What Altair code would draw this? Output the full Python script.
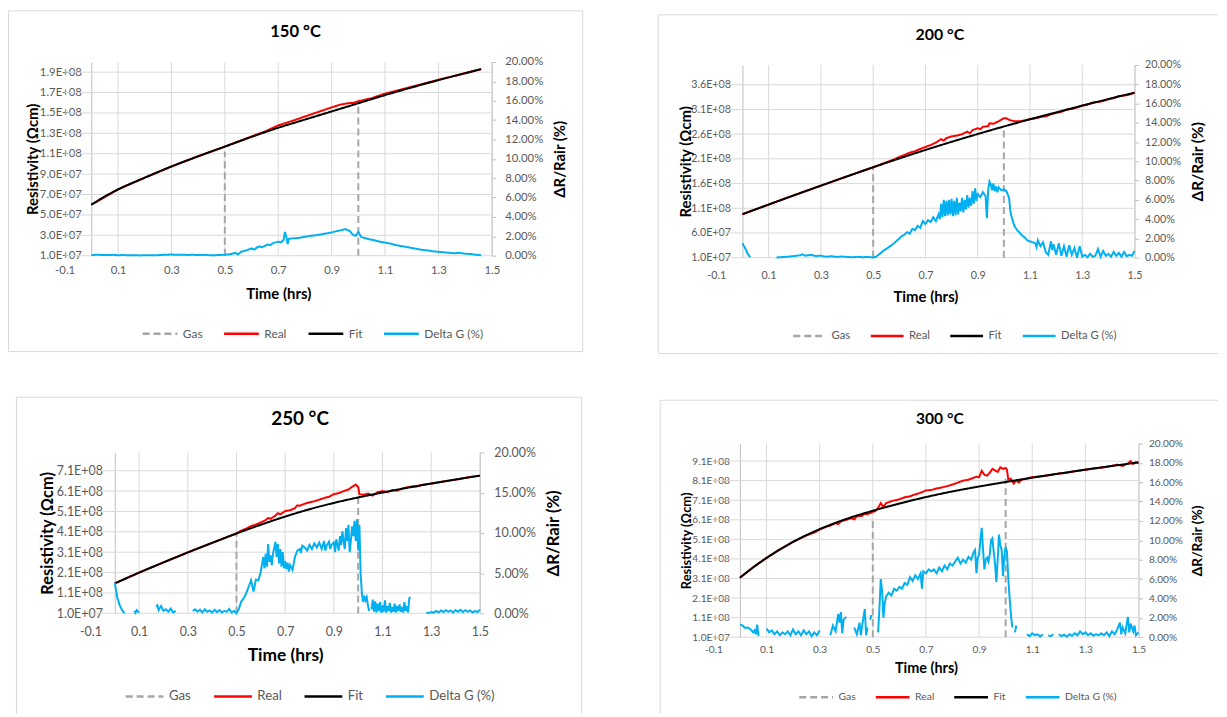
import altair as alt
import pandas as pd

FONT = "Lato"
GRID_COLOR = "#d9d9d9"
AXIS_COLOR = "#bfbfbf"
LABEL_COLOR = "#595959"
TITLE_COLOR = "#000000"
BOX_COLOR = "#d9d9d9"

# ---------------- data ----------------
series_names = ["Gas", "Real", "Fit", "Delta G (%)"]
series_colors = ["#a6a6a6", "#ff0000", "#000000", "#00b0f0"]
series_dash = [[7, 4], [1, 0], [1, 0], [1, 0]]

panel_titles = ["150 °C", "200 °C", "250 °C", "300 °C"]
x_ticks = [-0.1, 0.1, 0.3, 0.5, 0.7, 0.9, 1.1, 1.3, 1.5]
x_grid = [0.1, 0.3, 0.5, 0.7, 0.9, 1.1, 1.3, 1.5]

y_ticks_150 = [1.0e7, 3.0e7, 5.0e7, 7.0e7, 9.0e7, 1.1e8, 1.3e8, 1.5e8, 1.7e8, 1.9e8]
y_ticks_200 = [1.0e7, 6.0e7, 1.1e8, 1.6e8, 2.1e8, 2.6e8, 3.1e8, 3.6e8]
y_ticks_250 = [1.0e7, 1.1e8, 2.1e8, 3.1e8, 4.1e8, 5.1e8, 6.1e8, 7.1e8]
y_ticks_300 = [1.0e7, 1.1e8, 2.1e8, 3.1e8, 4.1e8, 5.1e8, 6.1e8, 7.1e8, 8.1e8, 9.1e8]
y_max = [2.0e8, 4.0e8, 8.0e8, 1.0e9]
dg_ticks_2 = [0.0, 0.02, 0.04, 0.06, 0.08, 0.10, 0.12, 0.14, 0.16, 0.18, 0.20]
dg_ticks_5 = [0.0, 0.05, 0.10, 0.15, 0.20]

# resistivity in units of 1e8 Ohm cm, (time h, value)
fit_150 = [(0.00, 0.600), (0.05, 0.680), (0.10, 0.750), (0.20, 0.865), (0.30, 0.975), (0.40, 1.075),
           (0.50, 1.170), (0.60, 1.265), (0.70, 1.355), (0.80, 1.435), (0.90, 1.515), (1.00, 1.595),
           (1.10, 1.675), (1.20, 1.750), (1.30, 1.822), (1.40, 1.890), (1.46, 1.930)]
real_150 = [(0.00, 0.600), (0.10, 0.750), (0.20, 0.865), (0.30, 0.975), (0.40, 1.075), (0.50, 1.170),
            (0.55, 1.220), (0.60, 1.270), (0.65, 1.318), (0.70, 1.378), (0.75, 1.420), (0.80, 1.465),
            (0.85, 1.510), (0.90, 1.555), (0.93, 1.580), (0.96, 1.595), (0.98, 1.598), (1.00, 1.615),
            (1.05, 1.645), (1.10, 1.690), (1.20, 1.757), (1.30, 1.825), (1.40, 1.890), (1.46, 1.930)]
gas_150 = [(0.5, 1.12), (1.0, 1.60)]
# Delta G in percent; None = below the axis (not drawn)
dg_150 = [(0.00, 0.05), (0.02, 0.10), (0.04, 0.08), (0.06, 0.06), (0.08, 0.09), (0.10, 0.05), (0.12, 0.07),
          (0.14, 0.04), (0.16, 0.06), (0.18, 0.03), (0.20, 0.05), (0.22, 0.06), (0.24, 0.04), (0.26, 0.08),
          (0.28, 0.10), (0.30, 0.12), (0.32, 0.09), (0.34, 0.11), (0.36, 0.08), (0.38, 0.10), (0.40, 0.07),
          (0.42, 0.09), (0.44, 0.06), (0.46, 0.05), (0.48, 0.07), (0.50, 0.10), (0.52, 0.15), (0.54, 0.30),
          (0.55, 0.12), (0.56, 0.40), (0.58, 0.55), (0.60, 0.75), (0.61, 0.62), (0.62, 0.85), (0.63, 0.95),
          (0.64, 0.88), (0.66, 1.15), (0.67, 1.08), (0.68, 1.30), (0.70, 1.45), (0.71, 1.38), (0.72, 1.60),
          (0.725, 2.45), (0.73, 2.00), (0.735, 1.20), (0.74, 1.75), (0.76, 1.80), (0.78, 1.85), (0.80, 1.95),
          (0.82, 2.05), (0.84, 2.10), (0.86, 2.20), (0.88, 2.30), (0.90, 2.40), (0.92, 2.55), (0.94, 2.65),
          (0.95, 2.75), (0.96, 2.65), (0.97, 2.50), (0.98, 2.15), (0.99, 2.05), (1.00, 2.45), (1.01, 1.95),
          (1.02, 1.85), (1.04, 1.70), (1.06, 1.60), (1.08, 1.45), (1.10, 1.35), (1.12, 1.25), (1.14, 1.10),
          (1.16, 1.00), (1.18, 0.90), (1.20, 0.80), (1.22, 0.70), (1.24, 0.60), (1.26, 0.55), (1.28, 0.45),
          (1.30, 0.40), (1.32, 0.35), (1.34, 0.30), (1.36, 0.25), (1.38, 0.30), (1.40, 0.20), (1.42, 0.18),
          (1.44, 0.10), (1.46, 0.05)]

fit_200 = [(0.0, 0.980), (0.1, 1.175), (0.2, 1.368), (0.3, 1.558), (0.4, 1.745), (0.5, 1.930), (0.6, 2.108),
           (0.7, 2.280), (0.8, 2.445), (0.9, 2.603), (1.0, 2.755), (1.1, 2.900), (1.2, 3.040), (1.3, 3.177),
           (1.4, 3.310), (1.5, 3.440)]
real_200 = [(0.0, 0.980), (0.1, 1.175), (0.2, 1.368), (0.3, 1.558), (0.4, 1.745), (0.5, 1.930), (0.52, 1.970),
            (0.54, 2.010), (0.56, 2.050), (0.58, 2.090), (0.60, 2.140), (0.62, 2.180), (0.64, 2.225),
            (0.66, 2.255), (0.68, 2.300), (0.70, 2.340), (0.72, 2.380), (0.74, 2.430), (0.76, 2.500),
            (0.77, 2.470), (0.78, 2.520), (0.80, 2.555), (0.82, 2.570), (0.84, 2.600), (0.86, 2.650),
            (0.87, 2.620), (0.88, 2.680), (0.90, 2.720), (0.91, 2.700), (0.92, 2.750), (0.94, 2.760),
            (0.945, 2.820), (0.96, 2.810), (0.98, 2.860), (1.00, 2.920), (1.01, 2.920), (1.02, 2.890),
            (1.04, 2.860), (1.06, 2.860), (1.08, 2.880), (1.10, 2.905), (1.12, 2.920), (1.14, 2.950),
            (1.16, 2.960), (1.18, 3.000), (1.20, 3.030), (1.22, 3.050), (1.24, 3.100), (1.26, 3.110),
            (1.28, 3.140), (1.30, 3.180), (1.32, 3.200), (1.34, 3.240), (1.36, 3.250), (1.38, 3.270),
            (1.40, 3.310), (1.42, 3.330), (1.44, 3.370), (1.46, 3.380), (1.48, 3.400), (1.50, 3.440)]
gas_200 = [(0.5, 1.93), (1.0, 2.74)]
dg_200 = [(0.00, 1.50), (0.01, 1.00), (0.02, 0.40), (0.03, 0.05), (0.035, None), (0.12, None), (0.13, 0.02),
          (0.14, 0.04), (0.16, 0.08), (0.18, 0.12), (0.20, 0.18), (0.22, 0.25), (0.23, 0.35), (0.24, 0.20),
          (0.26, 0.30), (0.28, 0.18), (0.30, 0.20), (0.32, 0.10), (0.34, 0.15), (0.36, 0.08), (0.38, 0.12),
          (0.40, 0.08), (0.42, 0.05), (0.44, 0.09), (0.46, 0.05), (0.48, 0.08), (0.50, 0.02), (0.51, 0.08),
          (0.52, 0.30), (0.53, 0.50), (0.54, 0.75), (0.55, 0.90), (0.56, 1.10), (0.57, 1.30), (0.58, 1.50),
          (0.59, 1.75), (0.60, 2.00), (0.61, 2.25), (0.62, 2.40), (0.63, 2.65), (0.64, 2.50), (0.65, 3.00),
          (0.66, 2.85), (0.67, 3.30), (0.68, 3.10), (0.69, 3.80), (0.70, 3.50), (0.71, 3.90), (0.72, 3.70),
          (0.73, 4.20), (0.74, 3.80), (0.75, 4.50), (0.755, 4.00), (0.76, 5.60), (0.765, 4.20), (0.77, 6.00),
          (0.775, 4.30), (0.78, 5.90), (0.785, 4.40), (0.79, 6.00), (0.795, 4.50), (0.80, 6.10), (0.805, 4.30),
          (0.81, 5.90), (0.815, 4.40), (0.82, 6.20), (0.825, 4.50), (0.83, 5.70), (0.835, 4.80), (0.84, 6.20),
          (0.845, 4.70), (0.85, 6.00), (0.855, 5.00), (0.86, 6.50), (0.865, 5.20), (0.87, 6.20), (0.875, 5.40),
          (0.88, 6.90), (0.885, 5.60), (0.89, 7.20), (0.895, 5.90), (0.90, 6.60), (0.91, 6.30), (0.92, 6.80),
          (0.93, 6.40), (0.935, 4.10), (0.94, 7.00), (0.945, 7.90), (0.95, 7.60), (0.955, 7.00), (0.96, 7.70),
          (0.965, 6.90), (0.97, 7.40), (0.975, 6.80), (0.98, 7.30), (0.99, 7.00), (1.00, 7.10), (1.01, 6.90),
          (1.02, 6.20), (1.025, 4.80), (1.03, 4.20), (1.04, 3.30), (1.05, 2.90), (1.06, 2.60), (1.07, 2.30),
          (1.08, 2.10), (1.09, 1.80), (1.10, 1.70), (1.11, 1.60), (1.12, 1.50), (1.125, 1.10), (1.13, 1.80),
          (1.14, 1.20), (1.15, 1.60), (1.16, 0.60), (1.17, 0.30), (1.18, 1.70), (1.185, 0.80), (1.19, 1.40),
          (1.20, 0.30), (1.21, 1.50), (1.22, 0.20), (1.23, 1.20), (1.24, 0.10), (1.25, 1.30), (1.26, 0.30),
          (1.27, 1.00), (1.28, 0.00), (1.29, 1.20), (1.30, 0.10), (1.31, 0.30), (1.32, 0.05), (1.33, 0.40),
          (1.34, 0.10), (1.35, 0.20), (1.36, 0.90), (1.37, 0.10), (1.38, 0.70), (1.39, 0.20), (1.40, 0.40),
          (1.41, 0.10), (1.42, 0.60), (1.43, 0.20), (1.44, 0.50), (1.45, 0.10), (1.46, 0.60), (1.47, 0.15),
          (1.48, 0.30), (1.49, 0.20), (1.50, 0.70)]

fit_250 = [(0.0, 1.57), (0.1, 2.10), (0.2, 2.60), (0.3, 3.09), (0.4, 3.56), (0.5, 4.02), (0.6, 4.45),
           (0.7, 4.85), (0.8, 5.21), (0.9, 5.52), (1.0, 5.79), (1.1, 6.03), (1.2, 6.26), (1.3, 6.47),
           (1.4, 6.67), (1.5, 6.86)]
real_250 = [(0.0, 1.57), (0.1, 2.10), (0.2, 2.60), (0.3, 3.09), (0.4, 3.56), (0.5, 4.02), (0.52, 4.16),
            (0.54, 4.26), (0.56, 4.38), (0.58, 4.46), (0.60, 4.56), (0.62, 4.68), (0.63, 4.78), (0.64, 4.74),
            (0.66, 4.90), (0.67, 5.02), (0.68, 4.96), (0.70, 5.12), (0.72, 5.16), (0.74, 5.26), (0.75, 5.40),
            (0.76, 5.38), (0.78, 5.48), (0.80, 5.55), (0.82, 5.60), (0.84, 5.68), (0.86, 5.76), (0.88, 5.82),
            (0.90, 5.95), (0.92, 6.00), (0.94, 6.10), (0.96, 6.18), (0.98, 6.35), (0.99, 6.42), (1.00, 6.30),
            (1.005, 5.95), (1.02, 5.92), (1.04, 5.98), (1.06, 5.88), (1.08, 6.05), (1.10, 6.10), (1.12, 6.05),
            (1.14, 6.15), (1.16, 6.12), (1.18, 6.22), (1.20, 6.28), (1.22, 6.33), (1.24, 6.32), (1.26, 6.40),
            (1.28, 6.44), (1.30, 6.47), (1.35, 6.57), (1.40, 6.66), (1.45, 6.77), (1.50, 6.86)]
gas_250 = [(0.5, 4.02), (1.0, 5.78)]
dg_250 = [(0.00, 3.80), (0.01, 2.00), (0.02, 1.00), (0.03, 0.40), (0.04, 0.00), (0.045, None), (0.075, None),
          (0.08, 0.30), (0.085, 0.05), (0.09, 0.40), (0.10, 0.10), (0.105, None), (0.165, None), (0.17, 0.80),
          (0.175, 1.00), (0.18, 0.40), (0.19, 0.90), (0.20, 0.30), (0.21, 0.50), (0.22, 0.20), (0.23, 0.60),
          (0.24, 0.10), (0.25, 0.30), (0.255, None), (0.315, None), (0.32, 0.30), (0.33, 0.50), (0.34, 0.20),
          (0.35, 0.45), (0.36, 0.10), (0.37, 0.50), (0.38, 0.20), (0.39, 0.35), (0.40, 0.10), (0.41, 0.45),
          (0.42, 0.15), (0.43, 0.40), (0.44, 0.10), (0.45, 0.30), (0.46, 0.20), (0.47, 0.55), (0.48, 0.10),
          (0.49, 0.30), (0.50, 0.00), (0.51, 0.60), (0.52, 1.50), (0.53, 1.90), (0.54, 2.50), (0.55, 3.30),
          (0.56, 4.10), (0.57, 2.70), (0.58, 4.20), (0.59, 4.10), (0.60, 5.20), (0.61, 7.00), (0.615, 5.60),
          (0.62, 7.40), (0.625, 5.80), (0.63, 8.60), (0.635, 6.40), (0.64, 7.20), (0.645, 6.00), (0.65, 7.40),
          (0.66, 8.90), (0.665, 7.00), (0.67, 8.60), (0.675, 6.20), (0.68, 8.00), (0.685, 5.80), (0.69, 7.60),
          (0.695, 5.60), (0.70, 6.50), (0.705, 5.50), (0.71, 6.30), (0.715, 5.20), (0.72, 6.00), (0.73, 5.40),
          (0.74, 7.00), (0.75, 7.80), (0.76, 8.00), (0.765, 7.50), (0.77, 8.40), (0.78, 8.20), (0.79, 7.80),
          (0.80, 8.50), (0.81, 8.00), (0.82, 8.70), (0.83, 8.20), (0.84, 8.80), (0.85, 8.00), (0.86, 9.00),
          (0.865, 7.80), (0.87, 8.40), (0.88, 8.90), (0.885, 8.00), (0.89, 8.50), (0.90, 8.80), (0.905, 7.60),
          (0.91, 9.20), (0.92, 7.80), (0.925, 9.60), (0.93, 8.50), (0.935, 10.20), (0.94, 9.00), (0.945, 8.00),
          (0.95, 10.60), (0.955, 9.00), (0.96, 11.00), (0.965, 7.60), (0.97, 9.00), (0.975, 10.80),
          (0.98, 9.60), (0.985, 11.50), (0.99, 9.00), (0.995, 11.70), (1.00, 7.80), (1.005, 11.00),
          (1.01, 5.00), (1.015, 2.50), (1.02, 1.40), (1.025, 2.20), (1.03, 1.60), (1.035, 2.00), (1.04, 1.00),
          (1.045, 0.30), (1.05, None), (1.055, 0.50), (1.06, 1.70), (1.065, 0.20), (1.07, 1.50), (1.075, 0.10),
          (1.08, 1.20), (1.085, 0.30), (1.09, 1.40), (1.095, 0.05), (1.10, 1.00), (1.105, 0.20), (1.11, 1.60),
          (1.115, 0.10), (1.12, 0.90), (1.125, 0.30), (1.13, 1.30), (1.135, 0.10), (1.14, 0.80), (1.145, 0.20),
          (1.15, 1.20), (1.155, 0.10), (1.16, 0.90), (1.165, 0.30), (1.17, 1.10), (1.175, 0.20), (1.18, 0.80),
          (1.185, 0.10), (1.19, 1.40), (1.195, 0.30), (1.20, 0.90), (1.205, 0.10), (1.21, 1.90), (1.215, 2.00),
          (1.22, None), (1.275, None), (1.28, 0.10), (1.29, 0.04), (1.30, 0.15), (1.31, 0.08), (1.32, 0.30),
          (1.33, 0.10), (1.34, 0.35), (1.35, 0.15), (1.36, 0.40), (1.37, 0.20), (1.38, 0.35), (1.39, 0.10),
          (1.40, 0.40), (1.41, 0.20), (1.42, 0.45), (1.43, 0.15), (1.44, 0.40), (1.45, 0.20), (1.46, 0.35),
          (1.47, 0.10), (1.48, 0.30), (1.49, 0.15), (1.50, 0.45)]

fit_300 = [(0.0, 3.14), (0.05, 3.67), (0.1, 4.15), (0.15, 4.58), (0.2, 4.97), (0.3, 5.62), (0.4, 6.14),
           (0.5, 6.56), (0.6, 6.93), (0.7, 7.26), (0.8, 7.55), (0.9, 7.80), (1.0, 8.03), (1.1, 8.25),
           (1.2, 8.46), (1.3, 8.66), (1.4, 8.85), (1.5, 9.03)]
real_300 = [(0.0, 3.14), (0.05, 3.67), (0.1, 4.15), (0.15, 4.58), (0.2, 4.97), (0.25, 5.30), (0.28, 5.45),
            (0.30, 5.60), (0.32, 5.72), (0.34, 5.80), (0.36, 5.93), (0.37, 5.88), (0.38, 6.02), (0.40, 6.10),
            (0.42, 6.18), (0.43, 6.12), (0.44, 6.28), (0.46, 6.30), (0.47, 6.42), (0.48, 6.38), (0.50, 6.50),
            (0.51, 6.55), (0.52, 6.70), (0.53, 6.95), (0.54, 6.75), (0.55, 6.95), (0.57, 7.05), (0.60, 7.15),
            (0.62, 7.25), (0.64, 7.30), (0.66, 7.40), (0.68, 7.48), (0.70, 7.60), (0.72, 7.62), (0.74, 7.70),
            (0.76, 7.75), (0.78, 7.82), (0.80, 7.90), (0.82, 8.00), (0.84, 8.10), (0.86, 8.15), (0.88, 8.25),
            (0.89, 8.30), (0.90, 8.28), (0.91, 8.60), (0.92, 8.40), (0.93, 8.35), (0.94, 8.50), (0.95, 8.70),
            (0.96, 8.62), (0.97, 8.55), (0.98, 8.78), (0.99, 8.70), (1.00, 8.75), (1.005, 8.65), (1.01, 8.15),
            (1.02, 8.20), (1.03, 7.95), (1.04, 8.10), (1.05, 8.00), (1.06, 8.15), (1.08, 8.20), (1.10, 8.28),
            (1.12, 8.30), (1.15, 8.35), (1.18, 8.42), (1.20, 8.46), (1.23, 8.50), (1.26, 8.58), (1.30, 8.66),
            (1.33, 8.72), (1.36, 8.76), (1.40, 8.85), (1.42, 8.92), (1.44, 8.85), (1.46, 8.98), (1.47, 9.10),
            (1.48, 8.95), (1.49, 9.05), (1.50, 9.00)]
gas_300 = [(0.5, 6.10), (1.0, 8.20)]
dg_300 = [(0.00, 1.30), (0.01, 1.20), (0.02, 0.95), (0.03, 1.00), (0.04, 0.80), (0.05, 0.50), (0.055, 0.70),
          (0.06, 0.30), (0.065, 1.30), (0.07, 0.10), (0.075, None), (0.095, None), (0.10, 0.90), (0.11, 0.50),
          (0.12, 0.70), (0.13, 0.30), (0.14, 0.60), (0.15, 0.20), (0.16, 0.50), (0.17, 0.30), (0.18, 0.60),
          (0.19, 0.20), (0.20, 0.80), (0.21, 0.30), (0.22, 0.60), (0.23, 0.20), (0.24, 0.70), (0.25, 0.30),
          (0.26, 0.60), (0.27, 0.10), (0.28, 0.50), (0.29, 0.20), (0.30, 0.70), (0.305, None), (0.315, None),
          (0.32, 0.40), (0.325, None), (0.335, None), (0.34, 0.20), (0.35, 1.20), (0.36, 0.60), (0.37, 2.40),
          (0.375, 1.50), (0.38, 2.60), (0.385, 0.40), (0.39, 1.80), (0.40, 2.10), (0.405, None), (0.425, None),
          (0.43, 1.00), (0.44, 0.30), (0.45, 1.50), (0.455, 0.20), (0.46, 1.20), (0.47, 2.90), (0.475, 0.20),
          (0.48, 1.00), (0.485, None), (0.49, 1.80), (0.495, 2.30), (0.50, None), (0.515, None), (0.52, 0.50),
          (0.525, 3.00), (0.53, 6.00), (0.535, 4.80), (0.54, 2.00), (0.545, 3.50), (0.55, 4.20), (0.56, 4.60),
          (0.57, 4.30), (0.58, 5.00), (0.59, 4.80), (0.60, 5.20), (0.61, 5.00), (0.62, 5.60), (0.63, 5.40),
          (0.64, 6.20), (0.65, 5.80), (0.66, 6.40), (0.67, 6.00), (0.68, 6.60), (0.685, 5.00), (0.69, 6.80),
          (0.70, 6.60), (0.71, 7.00), (0.72, 6.80), (0.73, 7.00), (0.74, 6.60), (0.75, 7.20), (0.76, 6.80),
          (0.77, 7.40), (0.78, 7.00), (0.79, 7.60), (0.80, 7.40), (0.81, 7.80), (0.82, 8.20), (0.83, 7.60),
          (0.84, 8.00), (0.85, 7.70), (0.86, 8.30), (0.87, 8.00), (0.88, 8.80), (0.885, 9.00), (0.89, 6.60),
          (0.895, 8.20), (0.90, 8.50), (0.905, 10.00), (0.91, 11.30), (0.915, 9.00), (0.92, 7.00),
          (0.925, 8.00), (0.93, 8.20), (0.935, 7.80), (0.94, 8.50), (0.945, 10.00), (0.95, 10.20),
          (0.955, 8.80), (0.96, 7.60), (0.965, 5.70), (0.97, 8.00), (0.975, 10.60), (0.98, 9.50),
          (0.985, 9.00), (0.99, 6.30), (0.995, 8.50), (1.00, 9.30), (1.005, 8.80), (1.01, 6.00), (1.015, 4.00),
          (1.02, 2.30), (1.025, 1.00), (1.03, None), (1.035, 0.50), (1.04, 1.20), (1.045, None), (1.05, 0.80),
          (1.055, None), (1.075, None), (1.08, 0.30), (1.09, 0.10), (1.10, 0.40), (1.11, 0.20), (1.12, 0.30),
          (1.13, 0.05), (1.14, 0.30), (1.15, None), (1.16, 0.20), (1.17, 0.10), (1.18, 0.30), (1.19, None),
          (1.20, 0.30), (1.21, 0.10), (1.22, 0.25), (1.23, 0.05), (1.24, 0.30), (1.25, 0.15), (1.26, 0.40),
          (1.27, 0.20), (1.28, 0.60), (1.29, 0.30), (1.30, 0.50), (1.31, 0.20), (1.32, 0.40), (1.33, 0.15),
          (1.34, 0.30), (1.35, 0.20), (1.36, 0.40), (1.37, 0.20), (1.38, 0.50), (1.39, 0.10), (1.40, 0.60),
          (1.41, 0.30), (1.42, 0.80), (1.43, 1.50), (1.435, 0.30), (1.44, 1.00), (1.45, 0.40), (1.46, 2.10),
          (1.465, 0.50), (1.47, 1.40), (1.48, 0.60), (1.485, 1.20), (1.49, 0.20), (1.50, 0.50)]

# ---------------- layout (pixels, per panel view) ----------------
GEO = [
    dict(W=579, H=346, x0=57, x1=487, yt=52, yb=247, ytx=25, dtx=555, xty=38, xlp=15, ylp=10, dlp=9,
         ctdx=0, cty=24, lx=134, lcy=324, sym=35, cp=16, tf=11.4, xtf=15, ytf=15, dtf=15, ctf=16.7, lf=12,
         box=[("h", 0.5, 578.5, 0.5), ("h", 0.5, 578.5, 343.5), ("v", 0.5, 0.5, 343.5), ("v", 578.5, 0.5, 343.5)]),
    dict(W=564, H=346, x0=59, x1=480, yt=55, yb=249, ytx=28, dtx=543, xty=39, xlp=18, ylp=12, dlp=6,
         ctdx=2, cty=27, lx=135, lcy=326, sym=33, cp=15, tf=10.8, xtf=15, ytf=15, dtf=15.5, ctf=16, lf=11.3,
         box=[("h", 0.5, 564, 4.5), ("h", 0.5, 564, 345.5), ("v", 0.5, 4.5, 345.5)]),
    dict(W=579, H=319, x0=83, x1=475, yt=56, yb=218, ytx=40, dtx=549, xty=42, xlp=18, ylp=12.5, dlp=10,
         ctdx=4.5, cty=25, lx=117, lcy=300, sym=38, cp=17, tf=12.5, xtf=17.5, ytf=16.5, dtf=16.8, ctf=19, lf=13.3,
         box=[("h", 8.5, 577.5, 0.5), ("v", 8.5, 0.5, 319), ("v", 577.5, 0.5, 319)]),
    dict(W=564, H=319, x0=56, x1=484, yt=47, yb=242, ytx=29, dtx=543, xty=32, xlp=12.5, ylp=10.5, dlp=6,
         ctdx=2, cty=24, lx=141, lcy=301, sym=34, cp=14, tf=10.2, xtf=14.5, ytf=13, dtf=13.8, ctf=15.7, lf=10.5,
         box=[("h", 2.5, 564, 3.5), ("v", 2.5, 3.5, 319)]),
]

DUMMY = pd.DataFrame({"k": [0]})


def box_rule(spec):
    kind, a, b, c = spec
    base = alt.Chart(DUMMY).mark_rule(color=BOX_COLOR, strokeWidth=1)
    if kind == "h":
        return base.encode(x=alt.value(a), x2=alt.value(b), y=alt.value(c))
    return base.encode(x=alt.value(a), y=alt.value(b), y2=alt.value(c))


def make_panel(i, fit, real, dg, gas, y_ticks, dg_ticks, g):
    W, H = g["W"], g["H"]
    x0, x1, yt, yb = g["x0"], g["x1"], g["yt"], g["yb"]
    ymin, ymax = y_ticks[0], y_max[i]
    xzero = x0 + (x1 - x0) * 0.1 / 1.6

    fit_df = pd.DataFrame({"t": [p[0] for p in fit], "v": [p[1] * 1e8 for p in fit], "series": "Fit"})
    real_df = pd.DataFrame({"t": [p[0] for p in real], "v": [p[1] * 1e8 for p in real], "series": "Real"})
    gas_df = pd.DataFrame({"t": [p[0] for p in gas], "base": ymin, "top": [p[1] * 1e8 for p in gas],
                           "series": "Gas"})
    dg_df = pd.DataFrame({"t": [p[0] for p in dg],
                          "v": [None if p[1] is None else p[1] / 100.0 for p in dg],
                          "series": "Delta G (%)"})
    vgrid_df = pd.DataFrame({"t": x_grid, "lo": ymin, "hi": ymax})
    hgrid_df = pd.DataFrame({"v": y_ticks, "xa": -0.1, "xb": 1.5})

    legend = alt.Legend(orient="none", legendX=g["lx"], legendY=g["lcy"] - g["sym"] / 2.0,
                        direction="horizontal", columns=4, title=None, symbolType="stroke",
                        symbolSize=g["sym"] ** 2, symbolStrokeWidth=2.5, labelFont=FONT,
                        labelFontSize=g["lf"], labelColor=LABEL_COLOR, labelOffset=4,
                        columnPadding=g["cp"], padding=0)
    color = alt.Color("series:N", scale=alt.Scale(domain=series_names, range=series_colors), legend=legend)
    dash = alt.StrokeDash("series:N", scale=alt.Scale(domain=series_names, range=series_dash), legend=legend)

    x_axis = alt.Axis(orient="bottom", offset=yb - H, values=x_ticks,
                      labelExpr="replace(format(datum.value, '.1f'), '\u2212', '-')",
                      grid=False, domain=False, ticks=False, tickSize=0, labelPadding=g["xlp"],
                      labelBaseline="middle", labelFlush=False, labelOverlap=False, labelFont=FONT,
                      labelFontSize=g["tf"], labelColor=LABEL_COLOR, title="Time (hrs)", titleFont=FONT,
                      titleFontSize=g["xtf"], titleFontWeight="bold", titleColor=TITLE_COLOR,
                      titleY=g["xty"], titleBaseline="middle")
    xs = alt.Scale(domain=[-0.1, 1.5], range=[x0, x1], nice=False, zero=False)
    X = alt.X("t:Q", scale=xs, axis=x_axis)

    y_axis = alt.Axis(orient="left", offset=-xzero, values=y_ticks,
                      labelExpr="replace(upper(format(datum.value, '.1e')), 'E+', 'E+0')",
                      grid=False, domain=True, domainColor=AXIS_COLOR,
                      ticks=False, tickSize=0, labelPadding=g["ylp"], labelFlush=False, labelOverlap=False,
                      labelFont=FONT, labelFontSize=g["tf"], labelColor=LABEL_COLOR,
                      title="Resistivity (\u03a9cm)", titleFont=FONT, titleFontSize=g["ytf"],
                      titleFontWeight="bold", titleColor=TITLE_COLOR, titleAngle=270, titleBaseline="middle",
                      titleX=g["ytx"] - xzero)
    ys = alt.Scale(domain=[ymin, ymax], range=[yb, yt], nice=False, zero=False)

    d_axis = alt.Axis(orient="right", offset=x1 - W, values=dg_ticks, format=".2%", grid=False,
                      domain=True, domainColor=AXIS_COLOR, ticks=True, tickColor=AXIS_COLOR, tickSize=4,
                      labelPadding=g["dlp"], labelFlush=False, labelOverlap=False, labelFont=FONT,
                      labelFontSize=g["tf"], labelColor=LABEL_COLOR, title="\u0394R/Rair (%)",
                      titleFont=FONT, titleFontSize=g["dtf"], titleFontWeight="bold", titleColor=TITLE_COLOR,
                      titleAngle=270, titleBaseline="middle", titleX=g["dtx"] - x1)
    ds = alt.Scale(domain=[0, 0.2], range=[yb, yt], nice=False, zero=False)

    vgrid = alt.Chart(vgrid_df).mark_rule(color=GRID_COLOR, strokeWidth=1).encode(
        x=X, y=alt.Y("lo:Q", scale=ys, axis=y_axis), y2="hi:Q")
    hgrid = alt.Chart(hgrid_df).mark_rule(color=GRID_COLOR, strokeWidth=1).encode(
        x=alt.X("xa:Q", scale=xs, axis=x_axis), x2="xb:Q", y=alt.Y("v:Q", scale=ys, axis=y_axis))
    gas_c = alt.Chart(gas_df).mark_rule(strokeWidth=2).encode(
        x=X, y=alt.Y("base:Q", scale=ys, axis=y_axis), y2="top:Q", color=color, strokeDash=dash)
    real_c = alt.Chart(real_df).mark_line(strokeWidth=2).encode(
        x=X, y=alt.Y("v:Q", scale=ys, axis=y_axis), color=color, strokeDash=dash)
    fit_c = alt.Chart(fit_df).mark_line(strokeWidth=2, interpolate="monotone").encode(
        x=X, y=alt.Y("v:Q", scale=ys, axis=y_axis), color=color, strokeDash=dash)
    left = alt.layer(vgrid, hgrid, gas_c, real_c, fit_c)

    dg_c = alt.Chart(dg_df).mark_line(strokeWidth=2, invalid="break-paths-show-domains").encode(
        x=X, y=alt.Y("v:Q", scale=ds, axis=d_axis), color=color, strokeDash=dash)

    boxes = [box_rule(b) for b in g["box"]]
    title = alt.TitleParams(text=panel_titles[i], font=FONT, fontSize=g["ctf"], fontWeight="bold",
                            color=TITLE_COLOR, anchor="middle", frame="group", orient="top",
                            baseline="middle", offset=-(g["cty"] + 0.88 * g["ctf"]), dx=g["ctdx"])
    return alt.layer(*boxes, left, dg_c).resolve_scale(y="independent").properties(
        width=W, height=H, title=title)


p1 = make_panel(0, fit_150, real_150, dg_150, gas_150, y_ticks_150, dg_ticks_2, GEO[0])
p2 = make_panel(1, fit_200, real_200, dg_200, gas_200, y_ticks_200, dg_ticks_2, GEO[1])
p3 = make_panel(2, fit_250, real_250, dg_250, gas_250, y_ticks_250, dg_ticks_5, GEO[2])
p4 = make_panel(3, fit_300, real_300, dg_300, gas_300, y_ticks_300, dg_ticks_2, GEO[3])

chart = alt.concat(p1, p2, p3, p4, columns=2, spacing={"row": 43, "column": 75},
                   bounds="flush", align="each", padding=0, background="white").resolve_scale(
    color="independent", strokeDash="independent").configure_view(stroke=None)

chart.save("out.html", embed_options={"renderer": "svg", "actions": False})
